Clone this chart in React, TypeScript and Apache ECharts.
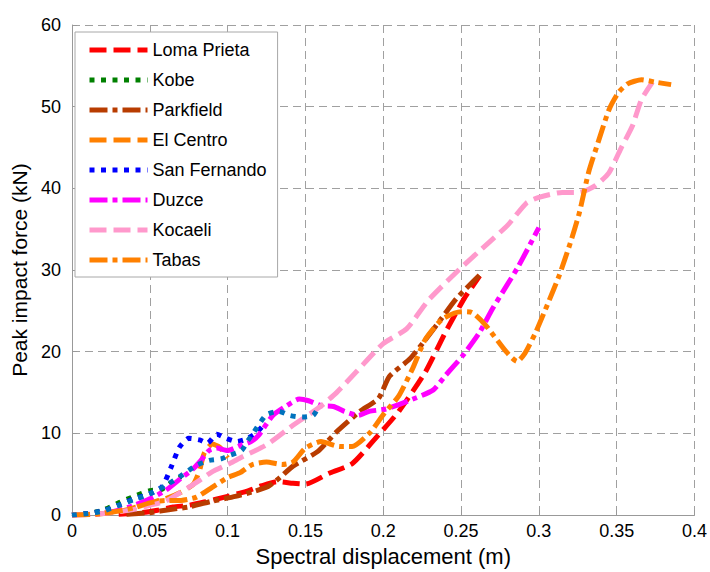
import React, { useEffect, useRef } from "react";
import * as echarts from "echarts";

const xTicks = { min: 0, max: 0.4, interval: 0.05 };
const yTicks = { min: 0, max: 60, interval: 10 };

const lomaPrieta = [[0.03,0.1],[0.045,0.3],[0.055,0.6],[0.065,1.0],[0.075,1.2],[0.085,1.6],[0.1,2.3],[0.112,2.9],[0.122,3.6],[0.132,4.1],[0.142,3.9],[0.15,3.8],[0.165,5.1],[0.18,6.3],[0.195,9.4],[0.21,12.7],[0.227,17.5],[0.24,22.4],[0.252,26.5],[0.262,29.3]];
const kobe = [[0,0],[0.01,0.2],[0.02,0.6],[0.03,1.5],[0.04,2.3],[0.05,3.0],[0.057,3.1],[0.064,4.0],[0.07,4.7]];
const parkfield = [[0.035,0.1],[0.05,0.3],[0.06,0.6],[0.075,1.0],[0.09,1.7],[0.105,2.3],[0.117,2.9],[0.126,3.5],[0.133,4.5],[0.142,6.0],[0.158,7.8],[0.17,10.2],[0.185,12.7],[0.197,14.3],[0.204,17.0],[0.217,19.1],[0.226,21.2],[0.236,23.7],[0.247,26.5],[0.262,29.4]];
const elCentro = [[0,0],[0.015,0.1],[0.03,0.4],[0.04,0.9],[0.05,1.5],[0.06,2.0],[0.07,2.8],[0.078,3.8],[0.082,5.5],[0.085,7.6],[0.09,8.7],[0.095,8.3],[0.1,7.0]];
const sanFernando = [[0,0],[0.01,0.2],[0.02,0.5],[0.03,1.2],[0.04,2.0],[0.05,2.6],[0.058,3.5],[0.064,6.0],[0.069,8.3],[0.075,9.4],[0.082,9.2],[0.087,8.8],[0.093,9.9],[0.099,9.4],[0.106,9.0],[0.112,9.3],[0.118,10.0],[0.122,10.8]];
const duzce = [[0,0],[0.02,0.2],[0.03,0.6],[0.04,1.2],[0.05,2.0],[0.06,3.0],[0.07,4.5],[0.077,5.5],[0.082,6.5],[0.088,7.9],[0.093,8.2],[0.1,7.9],[0.108,8.5],[0.115,9.0],[0.12,9.8],[0.129,12.2],[0.138,13.4],[0.146,14.2],[0.152,14.0],[0.16,13.4],[0.168,13.3],[0.175,12.7],[0.184,12.2],[0.191,12.7],[0.202,13.0],[0.215,13.9],[0.232,15.3],[0.24,17.1],[0.251,19.5],[0.262,22.4],[0.27,25.2],[0.279,28.0],[0.287,30.5],[0.3,35.2]];
const kocaeli = [[0,0],[0.02,0.2],[0.04,0.7],[0.05,1.2],[0.06,1.7],[0.07,2.8],[0.08,4.0],[0.09,5.3],[0.1,6.2],[0.108,7.0],[0.125,8.6],[0.142,11.0],[0.159,13.2],[0.17,15.0],[0.183,17.6],[0.2,21.0],[0.215,22.8],[0.229,26.3],[0.249,30.1],[0.268,33.4],[0.28,35.5],[0.292,38.2],[0.3,38.9],[0.315,39.5],[0.326,39.5],[0.336,40.3],[0.345,41.9],[0.353,45.0],[0.36,47.6],[0.366,50.9],[0.373,53.0]];
const tabas = [[0,0],[0.015,0.1],[0.03,0.5],[0.04,0.9],[0.05,1.5],[0.06,1.8],[0.07,1.8],[0.08,2.2],[0.09,3.4],[0.1,4.6],[0.108,5.2],[0.116,6.2],[0.125,6.5],[0.135,6.2],[0.142,6.5],[0.15,8.2],[0.16,9.0],[0.172,8.4],[0.18,8.4],[0.192,10.2],[0.2,12.3],[0.21,14.6],[0.219,18.0],[0.227,21.5],[0.238,24.0],[0.25,24.9],[0.257,24.8],[0.266,23.2],[0.279,20.0],[0.286,18.8],[0.291,19.8],[0.298,22.4],[0.306,26.0],[0.313,29.3],[0.32,33.2],[0.326,37.0],[0.332,42.0],[0.338,45.6],[0.345,49.6],[0.351,51.7],[0.357,52.8],[0.366,53.3],[0.375,53.0],[0.385,52.7]];
const unlabeled = [[0,0],[0.01,0.2],[0.02,0.5],[0.03,1.2],[0.04,1.9],[0.05,2.6],[0.06,3.6],[0.07,4.8],[0.08,6.1],[0.088,6.7],[0.096,6.9],[0.101,7.3],[0.109,7.9],[0.113,9.1],[0.117,10.2],[0.125,12.3],[0.133,12.7],[0.14,12.2],[0.148,12.0],[0.155,12.2],[0.159,13.4]];

const legendNames = ["Loma Prieta","Kobe","Parkfield","El Centro","San Fernando","Duzce","Kocaeli","Tabas"];

const DASH = [17, 7];
const DOT = [5, 6.5];
const DASHDOT = [18, 5, 5, 5];

const seriesDefs = [
  { name: "Loma Prieta", data: lomaPrieta, color: "#FF0000", dash: DASH },
  { name: "Kobe", data: kobe, color: "#008000", dash: DOT },
  { name: "Parkfield", data: parkfield, color: "#B83C00", dash: DASHDOT },
  { name: "El Centro", data: elCentro, color: "#FF8000", dash: DASH },
  { name: "San Fernando", data: sanFernando, color: "#0000FF", dash: DOT },
  { name: "Duzce", data: duzce, color: "#FF00FF", dash: DASHDOT },
  { name: "Kocaeli", data: kocaeli, color: "#FF99CC", dash: DASH },
  { name: "Tabas", data: tabas, color: "#FF8000", dash: DASHDOT },
  { name: "Unlabeled", data: unlabeled, color: "#0072BD", dash: DOT },
];

const FONT = "'Liberation Sans', Arial, sans-serif";

export default function App() {
  const ref = useRef<HTMLDivElement>(null);
  useEffect(() => {
    if (!ref.current) return;
    const chart = echarts.init(ref.current, undefined, { renderer: "svg" });
    chart.setOption({
      animation: false,
      backgroundColor: "#ffffff",
      textStyle: { fontFamily: FONT },
      grid: { left: 72, right: 14, top: 25, bottom: 55, containLabel: false },
      legend: {
        data: legendNames,
        orient: "vertical",
        left: 75,
        top: 32,
        padding: [9, 11, 8, 12],
        itemWidth: 58,
        itemHeight: 14,
        itemGap: 12,
        backgroundColor: "#ffffff",
        borderColor: "#a8a8a8",
        borderWidth: 1,
        borderRadius: 0,
        itemStyle: { opacity: 0, borderWidth: 0 },
        lineStyle: { width: 5, opacity: 1 },
        textStyle: { fontFamily: FONT, fontSize: 18, color: "#000", lineHeight: 18 },
      },
      xAxis: {
        type: "value",
        min: xTicks.min,
        max: xTicks.max,
        interval: xTicks.interval,
        name: "Spectral displacement (m)",
        nameLocation: "middle",
        nameGap: 29,
        nameTextStyle: { fontFamily: FONT, fontSize: 22, color: "#000" },
        axisLine: { show: true, lineStyle: { color: "#999", width: 1 } },
        axisTick: { show: true, inside: true, length: 5, lineStyle: { color: "#999" } },
        axisLabel: { fontFamily: FONT, fontSize: 18, color: "#000", margin: 7 },
        splitLine: { show: true, lineStyle: { color: "#a0a0a0", type: [8, 5], width: 1 } },
      },
      yAxis: {
        type: "value",
        min: yTicks.min,
        max: yTicks.max,
        interval: yTicks.interval,
        name: "Peak impact force (kN)",
        nameLocation: "middle",
        nameGap: 40,
        nameRotate: 90,
        nameTextStyle: { fontFamily: FONT, fontSize: 21, color: "#000" },
        axisLine: { show: true, lineStyle: { color: "#999", width: 1 } },
        axisTick: { show: true, inside: true, length: 5, lineStyle: { color: "#999" } },
        axisLabel: { fontFamily: FONT, fontSize: 18, color: "#000", margin: 11 },
        splitLine: { show: true, lineStyle: { color: "#a0a0a0", type: [8, 5], width: 1 } },
      },
      series: seriesDefs.map((s) => ({
        name: s.name,
        type: "line",
        data: s.data,
        symbol: "none",
        smooth: 0.2,
        color: s.color,
        lineStyle: { color: s.color, width: 5, type: s.dash, cap: "butt", join: "round" },
      })),
    });
    return () => chart.dispose();
  }, []);
  return <div ref={ref} style={{ position: "fixed", left: 0, top: 0, width: 710, height: 572 }} />;
}
